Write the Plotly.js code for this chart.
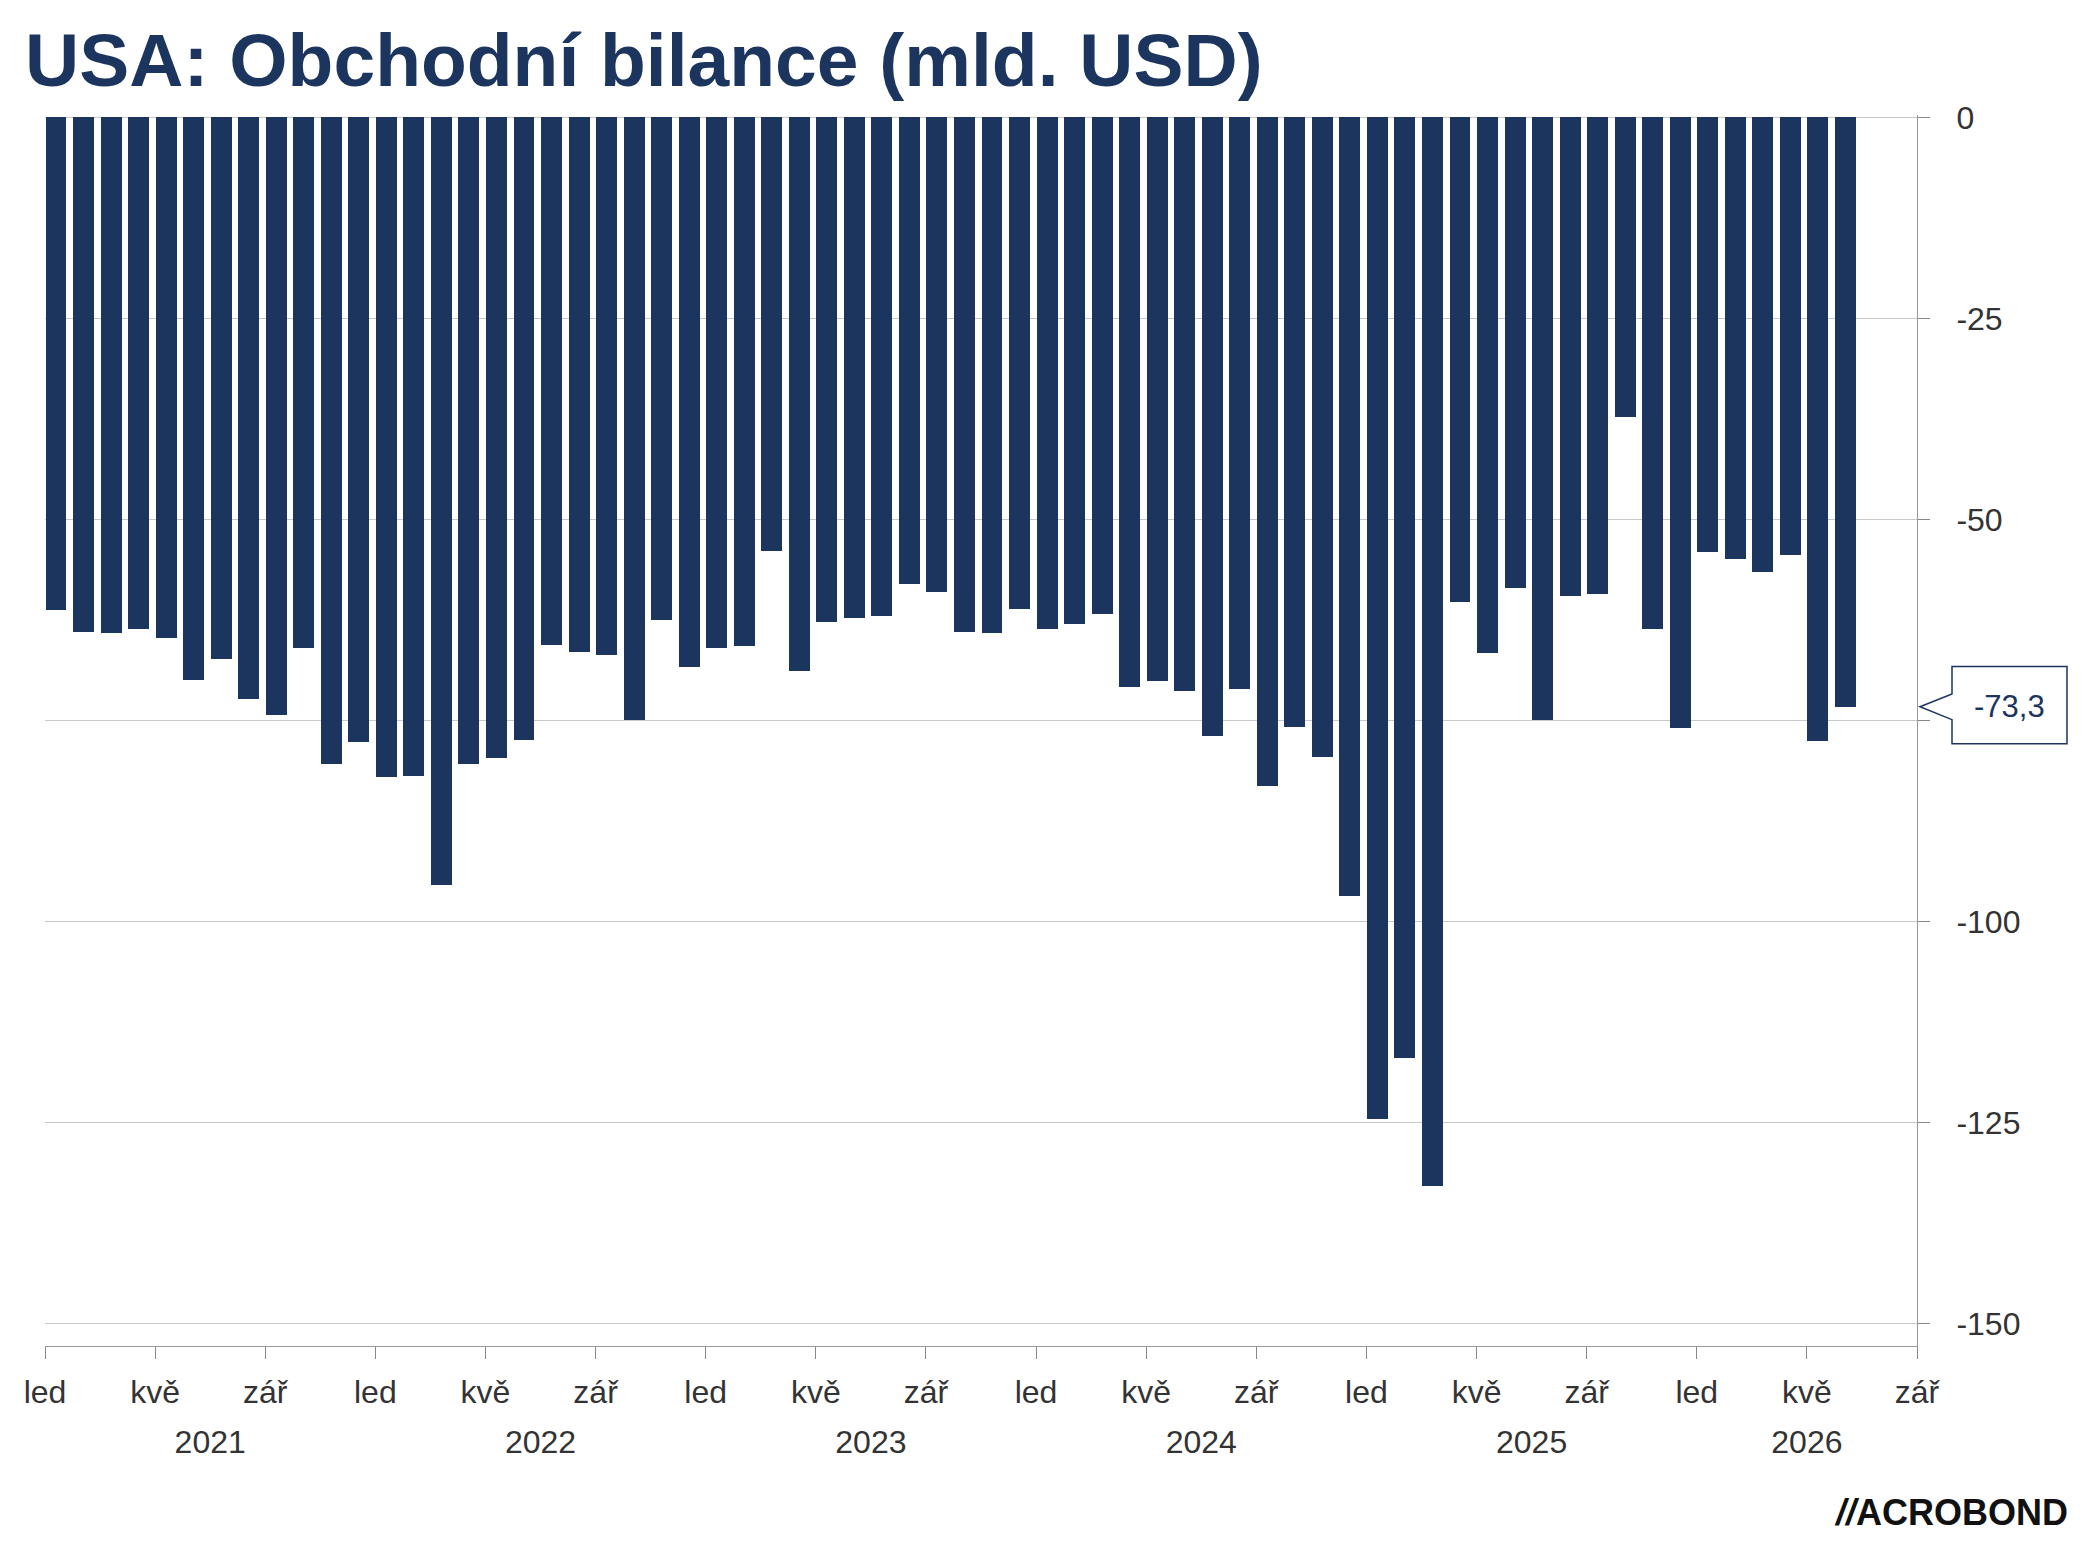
<!DOCTYPE html>
<html><head><meta charset="utf-8">
<script src="https://cdn.plot.ly/plotly-3.0.1.min.js"></script>
<style>body{margin:0;background:#fff}</style></head>
<body><div id="c" style="width:2093px;height:1568px"></div>
<script>
const values2021=[-61.3,-64.0,-64.1,-63.6,-64.8,-70.0,-67.3,-72.3,-74.3,-66.0,-80.4,-77.7];
const values2022=[-82.0,-81.9,-95.5,-80.4,-79.7,-77.4,-65.6,-66.5,-66.8,-74.9,-62.5,-68.3];
const values2023=[-66.0,-65.8,-53.9,-68.8,-62.8,-62.3,-62.0,-58.0,-59.0,-64.0,-64.1,-61.2];
const values2024=[-63.6,-63.0,-61.8,-70.8,-70.1,-71.3,-76.9,-71.1,-83.2,-75.8,-79.6,-96.8];
const values2025=[-124.6,-117.0,-132.9,-60.3,-66.6,-58.5,-74.9,-59.5,-59.3,-37.3,-63.6,-75.9];
const values2026=[-54.0,-54.9,-56.5,-54.4,-77.6,-73.3];
const monthLabels=["led","kvě","zář"];
const years=["2021","2022","2023","2024","2025","2026"];
const yearPos=[6,18,30,42,54,64];
const lastLabel="-73,3";
const vals=[].concat(values2021,values2022,values2023,values2024,values2025,values2026);
const xs=vals.map((v,i)=>i+0.4);
const navy="#1c355e";
const tickvals=[],ticktext=[];
for(let m=0;m<=68;m+=4){tickvals.push(m);ticktext.push(monthLabels[(m/4)%3]);}
const L=45,R=176,W=2093,PW=W-L-R;
const px=p=>(p-L)/PW;
const last=vals[vals.length-1];
Plotly.newPlot('c',[
 {type:'bar',x:xs,y:vals,width:0.76,marker:{color:navy},hoverinfo:'none'},
 {type:'scatter',x:[0],y:[0],xaxis:'x2',mode:'none',showlegend:false,hoverinfo:'none'}
],{
 width:2093,height:1568,paper_bgcolor:'#fff',plot_bgcolor:'#fff',showlegend:false,
 margin:{l:L,r:R,t:115,b:222},bargap:0,
 font:{family:'Arial, Liberation Sans, sans-serif',color:'#333',size:32},
 title:{text:'<b>USA: Obchodní bilance (mld. USD)</b>',x:0.012,xanchor:'left',y:0.962,yanchor:'middle',font:{size:75,color:navy}},
 xaxis:{range:[0,68],tickvals:tickvals,ticktext:ticktext,ticks:'outside',ticklen:12,tickcolor:'#888',
  showline:true,linecolor:'#999',showgrid:false,zeroline:false,tickfont:{size:32,color:'#333'},ticklabelstandoff:6,fixedrange:true},
 xaxis2:{overlaying:'x',range:[0,68],tickvals:yearPos,ticktext:years,side:'bottom',showline:false,showgrid:false,ticks:'',
  anchor:'y',tickfont:{size:32,color:'#333'},ticklabelstandoff:74,zeroline:false},
 yaxis:{side:'right',range:[-152.8,0.3],tickvals:[0,-25,-50,-75,-100,-125,-150],ticktext:['0','-25','-50','-75','-100','-125','-150'],
  ticks:'outside',ticklen:12,tickcolor:'#888',showline:true,linecolor:'#999',gridcolor:'#c8c8c8',gridwidth:1.3,zeroline:false,
  ticklabelstandoff:20,tickfont:{size:32,color:'#333'}},
 shapes:[{type:'path',xref:'paper',yref:'y',
  path:`M ${px(1920)},${last} L ${px(1952)},${last+1.6} L ${px(1952)},${last+5} L ${px(2067)},${last+5} L ${px(2067)},${last-4.6} L ${px(1952)},${last-4.6} L ${px(1952)},${last-1.6} Z`,
  line:{color:navy,width:1.5},fillcolor:'#fff'}],
 annotations:[
  {xref:'paper',yref:'y',x:px(2009),y:last,text:lastLabel,showarrow:false,font:{size:31,color:navy},xanchor:'center',yanchor:'middle'},
  {xref:'paper',yref:'paper',x:px(2070),y:-0.135,text:'<b><i>//</i>ACROBOND</b>',showarrow:false,xanchor:'right',yanchor:'middle',font:{size:36,color:'#111'}}
 ]
},{displayModeBar:false,staticPlot:true});
</script></body></html>
